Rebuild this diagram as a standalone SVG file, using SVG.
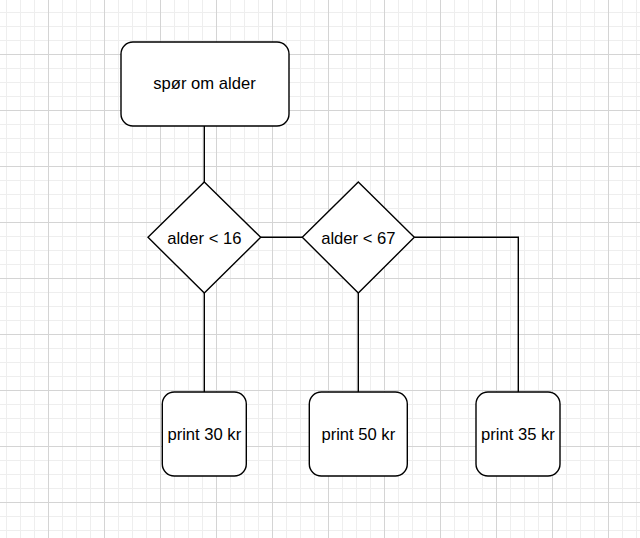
<svg xmlns="http://www.w3.org/2000/svg" width="640" height="538" viewBox="0 0 640 538">
  <style>
    .node { fill: #ffffff; stroke: #000000; stroke-width: 1.4; }
    .edge { fill: none; stroke: #000000; stroke-width: 1.4; }
    .label { font-family: "Liberation Sans", Arial, Helvetica, sans-serif; font-size: 16.6px; fill: #000000; text-anchor: middle; dominant-baseline: central; }
  </style>
  <defs>
    <!-- 14px minor grid with a heavier line every 56px -->
    <pattern id="grid" patternUnits="userSpaceOnUse" x="48" y="54" width="56" height="56">
      <path d="M14.5 0V56M28.5 0V56M42.5 0V56M0 14.5H56M0 28.5H56M0 42.5H56" fill="none" stroke="#eeeeee" stroke-width="1"/>
      <path d="M0.5 0V56M0 0.5H56" fill="none" stroke="#d4d4d4" stroke-width="1"/>
    </pattern>
  </defs>

  <rect width="640" height="538" fill="#ffffff"/>
  <rect width="640" height="538" fill="url(#grid)"/>

  <g id="connectors">
    <path class="edge" d="M204.3 126V182"/>
    <path class="edge" d="M260.7 237.3H302.3"/>
    <path class="edge" d="M204.3 293V392"/>
    <path class="edge" d="M358.3 293V392"/>
    <path class="edge" d="M414.3 237.3H518.3V392"/>
  </g>

  <g id="ask-age">
    <rect class="node" x="121" y="42" width="168" height="84" rx="12" ry="12"/>
    <text class="label" x="204.5" y="83.5">spør om alder</text>
  </g>

  <g id="age-under-16">
    <path class="node" d="M204.3 182L260.7 237.3L204.3 293L148 237.3Z"/>
    <text class="label" x="204.3" y="238">alder &lt; 16</text>
  </g>

  <g id="age-under-67">
    <path class="node" d="M358.3 182L414.3 237.3L358.3 293L302.3 237.3Z"/>
    <text class="label" x="358.3" y="238">alder &lt; 67</text>
  </g>

  <g id="print-30">
    <rect class="node" x="162.3" y="392" width="84" height="84" rx="12" ry="12"/>
    <text class="label" x="204.3" y="434">print 30 kr</text>
  </g>

  <g id="print-50">
    <rect class="node" x="309.3" y="392" width="98" height="84" rx="12" ry="12"/>
    <text class="label" x="358.3" y="434">print 50 kr</text>
  </g>

  <g id="print-35">
    <rect class="node" x="476" y="392" width="84" height="84" rx="12" ry="12"/>
    <text class="label" x="518" y="434">print 35 kr</text>
  </g>
</svg>
